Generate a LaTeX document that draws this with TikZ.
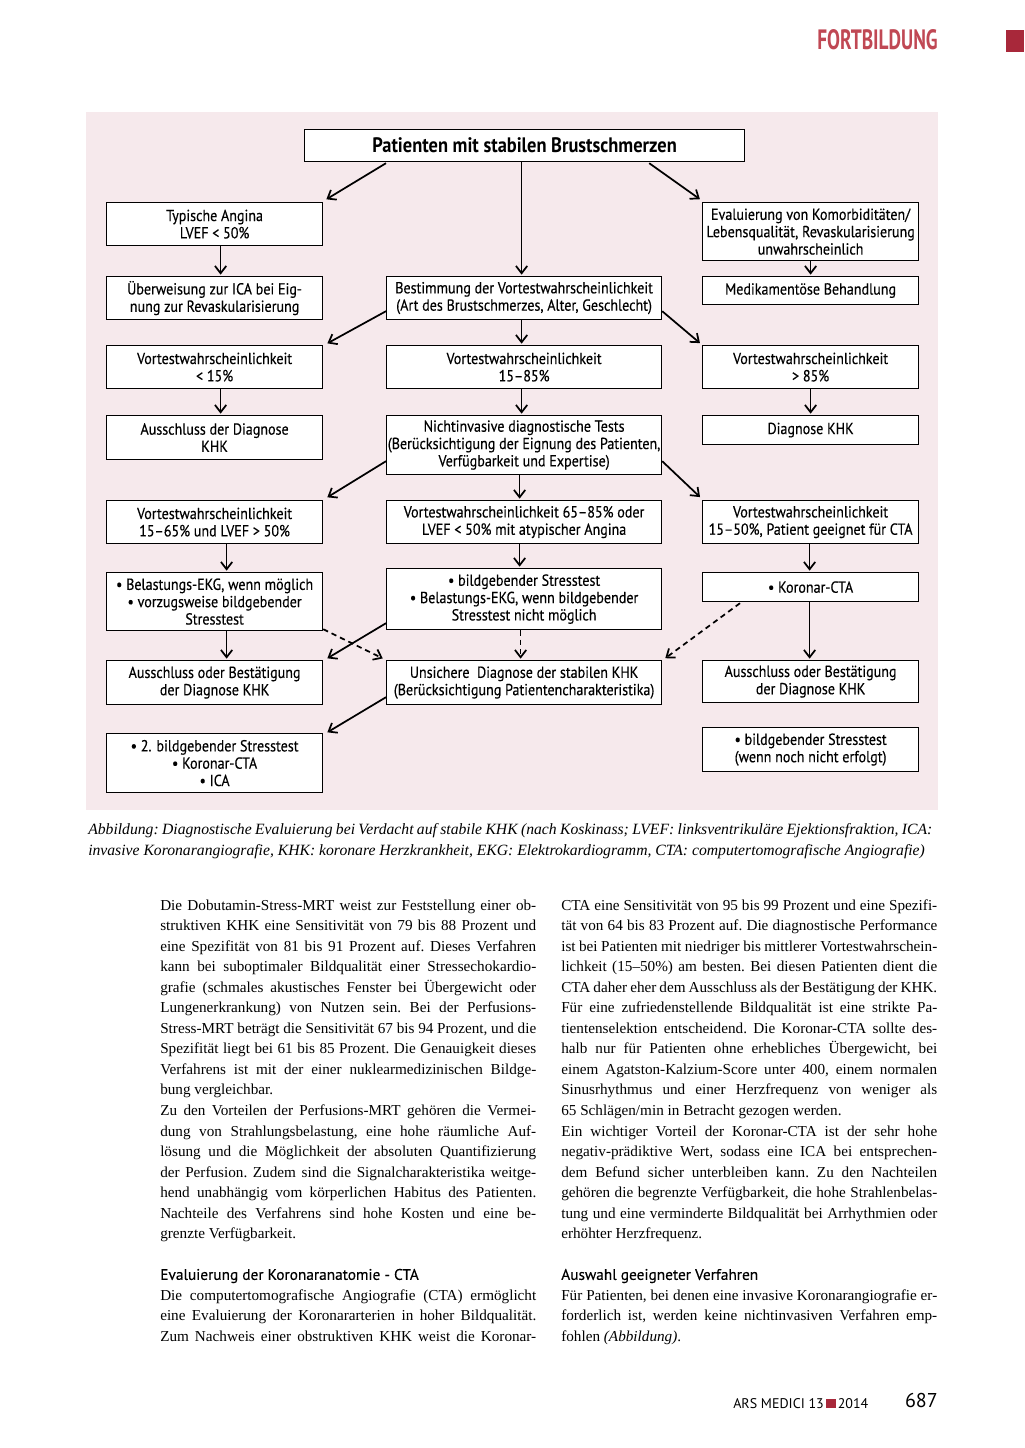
\documentclass[tikz,border=0pt]{standalone}
\usepackage{fontspec}
\setmainfont{Liberation Serif}
\newfontfamily\dgfont[FakeStretch=0.88,FakeBold=0.3]{PT Sans}
\newfontfamily\dgtitle[FakeStretch=0.88]{PT Sans}
\newfontfamily\hdfont[FakeStretch=0.69]{PT Sans}
\newfontfamily\sansf{PT Sans}
\newfontfamily\sanshd[FakeBold=0.3]{PT Sans}
\usetikzlibrary{arrows.meta,calc}

\definecolor{bgpink}{RGB}{246,233,236}
\definecolor{hdred}{RGB}{192,72,84}
\definecolor{sqred}{RGB}{168,40,58}

\newlength\colw \setlength\colw{282pt}
\newcommand\jl[1]{\hbox to \colw{#1}}
\newcommand\lastln[1]{\hbox{#1}}
\newcommand\bodyfnt{\fontsize{11.4}{15.41}\selectfont\frenchspacing}

\tikzset{
  box/.style={draw=black, line width=0.9pt, fill=white, align=center,
    inner sep=0pt, anchor=north west, font=\dgfont\fontsize{12}{13}\selectfont},
  arr/.style={line width=1.3pt, shorten >=1pt,
    -{Straight Barb[length=5.5pt,width=8.5pt,line width=1.3pt]}},
  darr/.style={arr, dash pattern=on 4pt off 3pt},
  txt/.style={inner sep=0pt, anchor=base west},
}
\newcommand\bx[6]{\node[box, minimum width={(#4-#2)*0.75pt},
  minimum height={(#5-#3)*0.75pt}] (#1) at (#2,#3) {#6};}

\begin{document}
\begin{tikzpicture}[x=0.75pt,y=-0.75pt]
\useasboundingbox (0,0) rectangle (1024,1448);
\fill[white] (0,0) rectangle (1024,1448);

% header
\node[inner sep=0pt, anchor=base east, text=hdred] (hdr) at (938,50)
  {\hdfont\bfseries\fontsize{21}{22}\selectfont FORTBILDUNG};
\fill[sqred] (1006,30) rectangle (1024,52);

% diagram background
\fill[bgpink] (86,112) rectangle (938,810);

% boxes
\node[box, minimum width={440*0.75pt}, minimum height={32*0.75pt},
  font=\dgtitle\bfseries\fontsize{15.7}{16}\selectfont] (top) at (304,129)
  {Patienten mit stabilen Brustschmerzen};
\bx{typ}{106}{202}{322}{245}{Typische Angina\\LVEF < 50\%}
\bx{eva}{702}{202}{918}{260}{Evaluierung von Komorbiditäten/\\Lebensqualität, Revaskularisierung\\unwahrscheinlich}
\bx{ueb}{106}{276}{322}{319}{Überweisung zur ICA bei Eig-\\nung zur Revaskularisierung}
\bx{bes}{386}{276}{661}{319}{Bestimmung der Vortestwahrscheinlichkeit\\(Art des Brustschmerzes, Alter, Geschlecht)}
\bx{med}{702}{276}{918}{304}{Medikamentöse Behandlung}
\bx{v15}{106}{345}{322}{388}{Vortestwahrscheinlichkeit\\< 15\%}
\bx{v1585}{386}{345}{661}{388}{Vortestwahrscheinlichkeit\\15–85\%}
\bx{v85}{702}{345}{918}{388}{Vortestwahrscheinlichkeit\\> 85\%}
\bx{aus}{106}{415}{322}{459}{Ausschluss der Diagnose\\KHK}
\bx{nit}{386}{415}{661}{474}{Nichtinvasive diagnostische Tests\\(Berücksichtigung der Eignung des Patienten,\\Verfügbarkeit und Expertise)}
\bx{dkhk}{702}{415}{918}{444}{Diagnose KHK}
\bx{v1565}{106}{500}{322}{543}{Vortestwahrscheinlichkeit\\15–65\% und LVEF > 50\%}
\bx{v6585}{386}{500}{661}{543}{Vortestwahrscheinlichkeit 65–85\% oder\\LVEF < 50\% mit atypischer Angina}
\bx{v1550}{702}{500}{918}{543}{Vortestwahrscheinlichkeit\\15–50\%, Patient geeignet für CTA}
\bx{bel}{106}{572}{322}{630}{• Belastungs-EKG, wenn möglich\\• vorzugsweise bildgebender\\Stresstest}
\bx{bild}{386}{568}{661}{629}{• bildgebender Stresstest\\• Belastungs-EKG, wenn bildgebender\\Stresstest nicht möglich}
\bx{cta}{702}{572}{918}{601}{• Koronar-CTA}
\bx{aob1}{106}{660}{322}{704}{Ausschluss oder Bestätigung\\der Diagnose KHK}
\bx{uns}{386}{660}{661}{704}{Unsichere\ \ Diagnose der stabilen KHK\\(Berücksichtigung Patientencharakteristika)}
\bx{aob2}{702}{660}{918}{702}{Ausschluss oder Bestätigung\\der Diagnose KHK}
\bx{bild2}{106}{733}{322}{792}{• 2. bildgebender Stresstest\\• Koronar-CTA\\• ICA}
\bx{nach}{702}{727}{918}{771}{• bildgebender Stresstest\\(wenn noch nicht erfolgt)}

% connectors
\draw[arr] ($(top.south west)+(82,1)$) -- ($(typ.north east)+(2,-2)$);
\draw[arr] ($(top.south)+(-3,0)$) -- ($(bes.north)+(-2.5,0)$);
\draw[arr] ($(top.south east)+(-96,1)$) -- ($(eva.north west)+(-1,-2)$);
\draw[arr] ($(typ.south)+(6,0)$) -- ($(ueb.north)+(6,0)$);
\draw[arr] (eva.south) -- (med.north);
\draw[arr] ($(bes.south west)+(0,-9)$) -- ($(v15.north east)+(3,-1)$);
\draw[arr] ($(bes.south)+(-2.5,0)$) -- ($(v1585.north)+(-2.5,0)$);
\draw[arr] ($(bes.south east)+(0,-9)$) -- ($(v85.north west)+(-1,-1)$);
\draw[arr] ($(v15.south)+(6,0)$) -- ($(aus.north)+(6,0)$);
\draw[arr] ($(v1585.south)+(-2.5,0)$) -- ($(nit.north)+(-2.5,0)$);
\draw[arr] (v85.south) -- (dkhk.north);
\draw[arr] ($(nit.south west)+(0,-14)$) -- ($(v1565.north east)+(3,-2)$);
\draw[arr] ($(nit.south)+(-4.5,0)$) -- ($(v6585.north)+(-4.5,0)$);
\draw[arr] ($(nit.south east)+(0,-14)$) -- ($(v1550.north west)+(-1,-2)$);
\draw[arr] ($(v1565.south)+(12,0)$) -- ($(bel.north)+(12,0)$);
\draw[arr] ($(v6585.south)+(-4.5,0)$) -- ($(bild.north)+(-4.5,0)$);
\draw[arr] ($(v1550.south)+(-1,0)$) -- ($(cta.north)+(-1,0)$);
\draw[arr] ($(bel.south)+(12,0)$) -- ($(aob1.north)+(12,0)$);
\draw[arr] ($(bild.south west)+(0,-7)$) -- ($(aob1.north east)+(3,-1)$);
\draw[darr] ($(bel.south east)+(0,-2)$) -- ($(uns.north west)+(-2,-1)$);
\draw[darr] ($(bild.south)+(-3.5,0)$) -- ($(uns.north)+(-3.5,0)$);
\draw[darr] ($(cta.south west)+(38,1)$) -- ($(uns.north east)+(2,-1)$);
\draw[arr] ($(cta.south)+(-1,0)$) -- ($(aob2.north)+(-1,0)$);
\draw[arr] ($(uns.south west)+(0,-8)$) -- ($(bild2.north east)+(3,0)$);

% caption
\node[txt] (cap) at (88,834) {\itshape\fontsize{11.75}{15.75}\selectfont\frenchspacing\vtop{\baselineskip=15.75pt
\hbox to 633pt{Abbildung: Diagnostische Evaluierung bei Verdacht auf stabile KHK (nach Koskinass; LVEF: linksventrikuläre Ejektionsfraktion, ICA:}
\hbox{invasive Koronarangiografie, KHK: koronare Herzkrankheit, EKG: Elektrokardiogramm, CTA: computertomografische Angiografie)}}};

% left column
\node[txt] (colL) at (160,910) {\bodyfnt\vtop{\baselineskip=15.41pt
\jl{Die Dobutamin-Stress-MRT weist zur Feststellung einer ob-}
\jl{struktiven KHK eine Sensitivität von 79 bis 88 Prozent und}
\jl{eine Spezifität von 81 bis 91 Prozent auf. Dieses Verfahren}
\jl{kann bei suboptimaler Bildqualität einer Stressechokardio-}
\jl{grafie (schmales akustisches Fenster bei Übergewicht oder}
\jl{Lungenerkrankung) von Nutzen sein. Bei der Perfusions-}
\jl{Stress-MRT beträgt die Sensitivität 67 bis 94 Prozent, und die}
\jl{Spezifität liegt bei 61 bis 85 Prozent. Die Genauigkeit dieses}
\jl{Verfahrens ist mit der einer nuklearmedizinischen Bildge-}
\lastln{bung vergleichbar.}
\jl{Zu den Vorteilen der Perfusions-MRT gehören die Vermei-}
\jl{dung von Strahlungsbelastung, eine hohe räumliche Auf-}
\jl{lösung und die Möglichkeit der absoluten Quantifizierung}
\jl{der Perfusion. Zudem sind die Signalcharakteristika weitge-}
\jl{hend unabhängig vom körperlichen Habitus des Patienten.}
\jl{Nachteile des Verfahrens sind hohe Kosten und eine be-}
\lastln{grenzte Verfügbarkeit.}
\hbox{}
\lastln{\sanshd\fontsize{11.5}{15}\selectfont Evaluierung der Koronaranatomie - CTA}
\jl{Die computertomografische Angiografie (CTA) ermöglicht}
\jl{eine Evaluierung der Koronararterien in hoher Bildqualität.}
\jl{Zum Nachweis einer obstruktiven KHK weist die Koronar-}}};

% right column
\node[txt] (colR) at (561,910) {\bodyfnt\vtop{\baselineskip=15.41pt
\jl{CTA eine Sensitivität von 95 bis 99 Prozent und eine Spezifi-}
\jl{tät von 64 bis 83 Prozent auf. Die diagnostische Performance}
\jl{ist bei Patienten mit niedriger bis mittlerer Vortestwahrschein-}
\jl{lichkeit (15–50\%) am besten. Bei diesen Patienten dient die}
\jl{CTA daher eher dem Ausschluss als der Bestätigung der KHK.}
\jl{Für eine zufriedenstellende Bildqualität ist eine strikte Pa-}
\jl{tientenselektion entscheidend. Die Koronar-CTA sollte des-}
\jl{halb nur für Patienten ohne erhebliches Übergewicht, bei}
\jl{einem Agatston-Kalzium-Score unter 400, einem normalen}
\jl{Sinusrhythmus und einer Herzfrequenz von weniger als}
\lastln{65 Schlägen/min in Betracht gezogen werden.}
\jl{Ein wichtiger Vorteil der Koronar-CTA ist der sehr hohe}
\jl{negativ-prädiktive Wert, sodass eine ICA bei entsprechen-}
\jl{dem Befund sicher unterbleiben kann. Zu den Nachteilen}
\jl{gehören die begrenzte Verfügbarkeit, die hohe Strahlenbelas-}
\jl{tung und eine verminderte Bildqualität bei Arrhythmien oder}
\lastln{erhöhter Herzfrequenz.}
\hbox{}
\lastln{\sanshd\fontsize{11.5}{15}\selectfont Auswahl geeigneter Verfahren}
\jl{Für Patienten, bei denen eine invasive Koronarangiografie er-}
\jl{forderlich ist, werden keine nichtinvasiven Verfahren emp-}
\lastln{fohlen \textit{(Abbildung)}.}}};

% footer
\node[txt] (foot) at (733,1408) {\sansf\fontsize{10.5}{12}\selectfont ARS MEDICI 13\,{\color{sqred}\rule{7pt}{7pt}}\,2014};
\node[inner sep=0pt, anchor=base east] (page) at (938,1407) {\sansf\fontsize{15}{16}\selectfont 687};
\end{tikzpicture}
\end{document}
